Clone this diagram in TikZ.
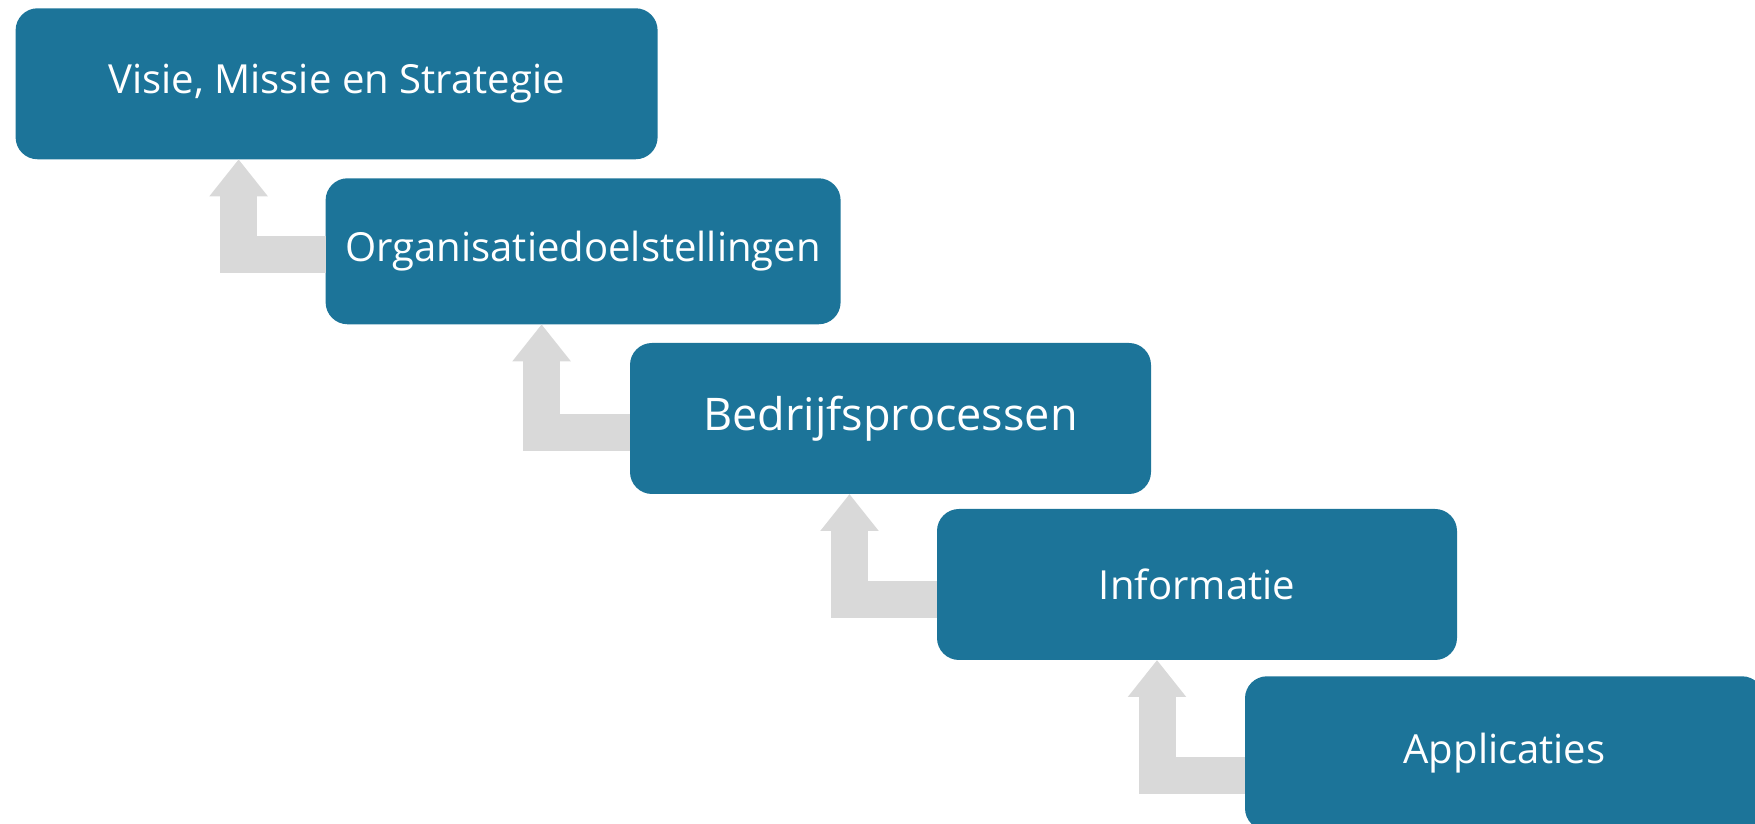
\documentclass[tikz,border=0pt]{standalone}
\usepackage{fontspec}
\setmainfont{Open Sans}
\usetikzlibrary{positioning,arrows.meta}
\definecolor{azul}{RGB}{28,116,153}
\definecolor{gris}{RGB}{217,217,217}

\begin{document}
\begin{tikzpicture}
\tikzset{
    caja/.style={rectangle, rounded corners=0.22cm, fill=azul, text=white, inner sep=0pt, outer sep=0pt,
                 minimum height=1.5cm, minimum width=5.2cm, font=\fontsize{11.4}{13}\selectfont},
    flecha/.style={-{Triangle[width=0.56cm,length=0.37cm]}, line width=0.37cm, draw=gris, line join=miter}
}
\useasboundingbox (0,0) rectangle (17.55,-8.24);
\node[caja, anchor=north west, minimum width=6.42cm, minimum height=1.51cm] (vision) at (0.156,-0.083) {Visie, Missie en Strategie};
\node[caja, minimum width=5.15cm, minimum height=1.46cm, below right=0.19cm and -3.32cm of vision] (doelen) {Organisatiedoelstellingen};
\node[caja, minimum width=5.21cm, minimum height=1.51cm, below right=0.187cm and -2.106cm of doelen, font=\fontsize{12.8}{15}\selectfont] (procesos) {Bedrijfsprocessen};
\node[caja, minimum height=1.51cm, below right=0.15cm and -2.14cm of procesos] (info) {Informatie};
\node[caja, minimum width=5.19cm, minimum height=1.54cm, below right=0.163cm and -2.12cm of info] (apps) {Applicaties};
\draw[flecha] ([yshift=-0.03cm]doelen.west) -| ([xshift=2.23cm]vision.south west);
\draw[flecha] ([yshift=-0.14cm]procesos.west) -| ([xshift=2.16cm]doelen.south west);
\draw[flecha] ([yshift=-0.15cm]info.west) -| ([xshift=2.195cm]procesos.south west);
\draw[flecha] ([yshift=-0.22cm]apps.west) -| ([xshift=2.2cm]info.south west);

\end{tikzpicture}
\end{document}
